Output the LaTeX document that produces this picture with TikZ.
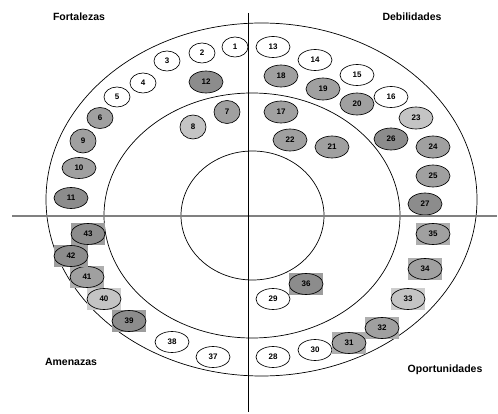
\documentclass[tikz,border=0pt]{standalone}
\usepackage{fontspec}
\setmainfont{Liberation Sans}
\usetikzlibrary{shapes.geometric}

\definecolor{scuro}{HTML}{8C8C8C}
\definecolor{medio}{HTML}{A0A0A0}
\definecolor{chiaro}{HTML}{C4C4C4}
\definecolor{asse}{HTML}{808080}

\begin{document}
\begin{tikzpicture}[x=1pt, y=-1pt, line width=0.7pt,
    voce/.style={ellipse, draw, line width=0.65pt, fill=white, inner sep=0pt,
        minimum width=34pt, minimum height=21pt,
        font=\fontsize{8}{9}\selectfont\bfseries},
    stretta/.style={minimum width=26pt},
    titolo/.style={font=\fontsize{10.5}{12}\selectfont\bfseries}]

    \useasboundingbox (0,0) rectangle (498,414);

    % Comando \ovale: x, y, numero, opzioni
    \def\ovale#1#2#3#4{%
        \node[voce, #4] (n#3) at (#1,#2) {#3};%
    }
    % Comando \ovalebox: come \ovale, con riquadro grigio dietro
    \def\ovalebox#1#2#3#4{%
        \fill[#4!85!white] (#1-17,#2-11) rectangle (#1+17,#2+11);%
        \node[voce, fill=#4] (n#3) at (#1,#2) {#3};%
    }

    % -- Anelli --
    \draw (261.5,199.5) ellipse [x radius=215.5, y radius=176.5];
    \draw (252,215.5) ellipse [x radius=148, y radius=122.5];
    \draw (252.5,215.5) ellipse [x radius=71.5, y radius=64.5];

    % -- Fortalezas --
    \ovale{235}{47}{1}{stretta, minimum height=20pt}
    \ovale{202}{53}{2}{stretta, minimum height=20pt}
    \ovale{167}{61}{3}{stretta, minimum height=20pt}
    \ovale{143}{83}{4}{stretta, minimum height=20pt}
    \ovale{117}{97}{5}{stretta, minimum height=20pt}
    \ovale{100}{118}{6}{stretta, fill=medio}
    \ovale{227}{112}{7}{stretta, minimum height=23pt, fill=medio}
    \ovale{193}{127}{8}{stretta, minimum height=24pt, fill=chiaro}
    \ovale{83}{141}{9}{stretta, minimum height=24pt, fill=medio}
    \ovale{79}{168}{10}{fill=medio}
    \ovale{71}{198}{11}{fill=scuro}
    \ovale{206}{82}{12}{minimum height=22pt, fill=scuro}

    % -- Debilidades --
    \ovale{273}{47}{13}{}
    \ovale{315}{60}{14}{}
    \ovale{357}{75}{15}{}
    \ovale{391}{97}{16}{}
    \ovale{281}{112}{17}{minimum height=22pt, fill=medio}
    \ovale{281}{76}{18}{minimum height=22pt, fill=medio}
    \ovale{323}{89}{19}{minimum height=22pt, fill=medio}
    \ovale{357}{104}{20}{minimum height=22pt, fill=medio}
    \ovale{332}{147}{21}{minimum height=22pt, fill=medio}
    \ovale{290}{140}{22}{minimum height=22pt, fill=medio}
    \ovale{416}{118}{23}{minimum height=22pt, fill=chiaro}
    \ovale{433}{147}{24}{minimum height=22pt, fill=medio}
    \ovale{433}{176}{25}{minimum height=22pt, fill=medio}
    \ovale{391}{139}{26}{minimum height=22pt, fill=scuro}
    \ovale{425}{204}{27}{minimum height=22pt, fill=scuro}

    % -- Oportunidades --
    \ovale{273}{357}{28}{}
    \ovale{273}{299}{29}{}
    \ovale{315}{350}{30}{}
    \ovalebox{349}{343}{31}{medio}
    \ovalebox{382}{328}{32}{medio}
    \ovalebox{408}{299}{33}{chiaro}
    \ovalebox{425}{269}{34}{medio}
    \ovalebox{433}{234}{35}{medio}
    \ovalebox{306}{284}{36}{scuro}

    % -- Amenazas --
    \ovale{213}{357}{37}{}
    \ovale{172}{342}{38}{}
    \ovalebox{129}{321}{39}{scuro}
    \ovalebox{104}{299}{40}{chiaro}
    \ovalebox{87}{277}{41}{medio}
    \ovalebox{71}{256}{42}{scuro}
    \ovalebox{88}{234}{43}{scuro}

    % -- Assi --
    \coordinate (nord) at (248,13);
    \coordinate (sud) at (248,412);
    \coordinate (ovest) at (12,216);
    \coordinate (est) at (497,216);
    \draw[asse, line width=1.1pt] (ovest) -- (est);
    \draw (nord) -- (sud);

    % Titoli dei quadranti
    \node[titolo] (fortalezas) at (79,17) {Fortalezas};
    \node[titolo] (debilidades) at (412,17) {Debilidades};
    \node[titolo] (amenazas) at (71,362) {Amenazas};
    \node[titolo] (oportunidades) at (445,370) {Oportunidades};

\end{tikzpicture}
\end{document}
